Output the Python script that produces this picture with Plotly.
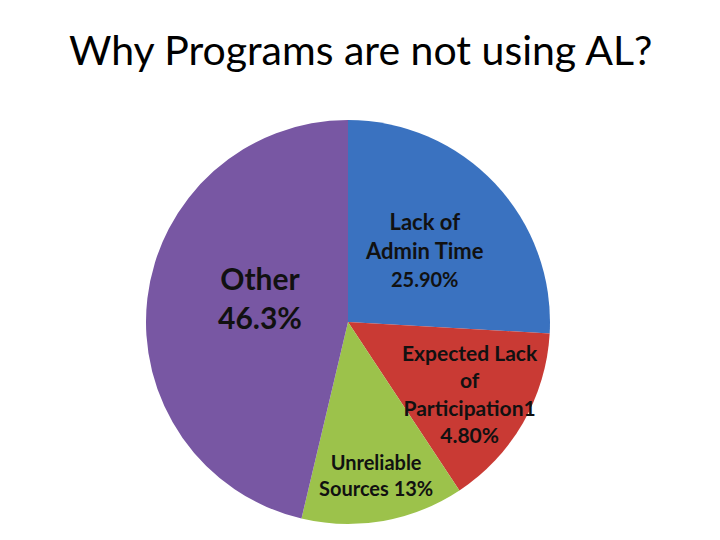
import plotly.graph_objects as go

title = "Why Programs are not using AL?"
categories = ["Lack of Admin Time", "Expected Lack of Participation", "Unreliable Sources", "Other"]
values = [25.9, 14.8, 13.0, 46.3]
label_texts = [
    "Lack of<br>Admin Time<br><span style='font-size:20px'>25.90%</span>",
    "Expected Lack<br>of<br>Participation1<br>4.80%",
    "Unreliable<br>Sources 13%",
    "Other<br>46.3%",
]
colors = ["#3a72c0", "#c93a34", "#9cc24b", "#7857a3"]

W, H = 720, 540
cx, cy, r = 348, 322, 202

fig = go.Figure(go.Pie(
    labels=categories,
    values=values,
    sort=False,
    direction="clockwise",
    rotation=0,
    marker=dict(colors=colors, line=dict(width=0)),
    textinfo="none",
    hoverinfo="label+percent",
    showlegend=False,
    domain=dict(x=[(cx - r) / W, (cx + r) / W], y=[(H - cy - r) / H, (H - cy + r) / H]),
))

# label anchor positions (pixels: center x, center y of text block) and sizes
label_pos = [(424, 249), (470, 393), (376, 475), (260, 297)]
label_sizes = [22, 21, 20, 30]
for txt, (px, py), sz in zip(label_texts, label_pos, label_sizes):
    fig.add_annotation(
        x=px / W, y=1 - py / H, xref="paper", yref="paper",
        text="<b>" + txt + "</b>", showarrow=False,
        font=dict(family="Lato, Open Sans, sans-serif", size=sz, color="#111111"),
        align="center", xanchor="center", yanchor="middle",
    )

fig.add_annotation(
    x=360 / W, y=1 - 50 / H, xref="paper", yref="paper",
    text=title, showarrow=False,
    font=dict(family="Lato, Open Sans, sans-serif", size=41, color="#000000"),
    xanchor="center", yanchor="middle",
)

fig.update_layout(
    width=W, height=H,
    margin=dict(l=0, r=0, t=0, b=0),
    paper_bgcolor="white", plot_bgcolor="white",
)

fig.write_html("out.html", config={"displayModeBar": False},
               post_script="document.body.style.margin='0';")
